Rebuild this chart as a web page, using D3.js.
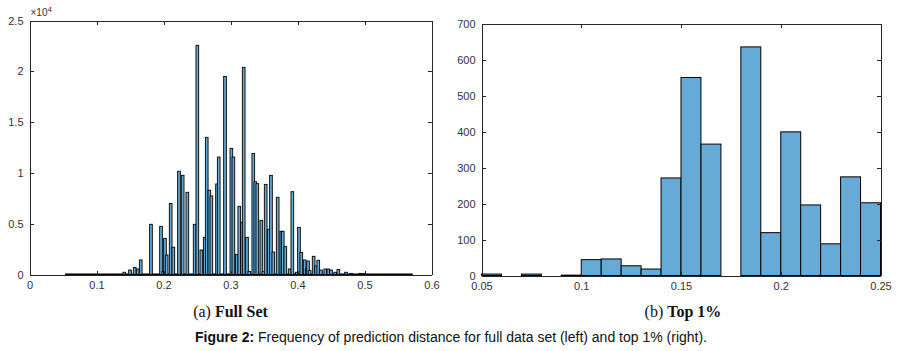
<!DOCTYPE html>
<html>
<head>
<meta charset="utf-8">
<title>Frequency of prediction distance</title>
<script src="https://d3js.org/d3.v7.min.js"></script>
<style>
    body { margin: 0; background: #fff; }
    svg { display: block; }
    .axis path, .axis line { stroke: #262626; stroke-width: 1; shape-rendering: crispEdges; }
    .axis text { fill: #333; font: 11px "Liberation Sans", Arial, sans-serif; }
    .caption { font-family: "Liberation Serif", "Times New Roman", serif; font-size: 16px; fill: #111; }
    .figcap { font-family: "Liberation Sans", Arial, sans-serif; font-size: 14px; fill: #111; }
</style>
</head>
<body>
<svg width="904" height="351"></svg>
<script>
// ---- (a) full set: bar centres and counts
var fullCenters = [0.1415, 0.150, 0.157, 0.1615, 0.166, 0.1813, 0.1963, 0.1998, 0.2022, 0.2047,
    0.2107, 0.2147, 0.2231, 0.2286, 0.2356, 0.2465, 0.2505, 0.2565, 0.2615, 0.2645,
    0.2684, 0.2714, 0.2799, 0.2824, 0.2918, 0.3013, 0.3043, 0.3093, 0.3131, 0.3172,
    0.3197, 0.3246, 0.328, 0.334, 0.337, 0.340, 0.346, 0.349, 0.3525, 0.357,
    0.3604, 0.3639, 0.3704, 0.3758, 0.378, 0.3818, 0.3883, 0.3923, 0.3988, 0.4022,
    0.4057, 0.4107, 0.4137, 0.4157, 0.418, 0.4241, 0.4276, 0.431, 0.435, 0.4415,
    0.446, 0.450, 0.4564, 0.461, 0.4724, 0.480, 0.4937, 0.4997];
var fullCounts = [220, 440, 700, 540, 1430, 4940, 4740, 300, 3560, 1920,
    7000, 2680, 10160, 9760, 8090, 4940, 22560, 2410, 3660, 13500,
    8290, 7730, 8910, 11560, 19500, 12420, 11560, 1980, 6710, 5140,
    20390, 3660, 310, 11910, 9130, 8940, 5330, 300, 8870, 4450,
    9760, 2210, 7600, 4250, 4250, 2740, 540, 8150, 220, 4640,
    2180, 1430, 540, 1330, 400, 1790, 840, 1400, 440, 540,
    540, 440, 220, 500, 220, 110, 110, 100];
var fullBinWidth = 0.004;
var fullRange = [0.053, 0.572];   // extent of (empty) bins along the baseline
var fullXTicks = [0, 0.1, 0.2, 0.3, 0.4, 0.5, 0.6];
var fullYTicks = [0, 5000, 10000, 15000, 20000, 25000];
var fullYLabels = ["0", "0.5", "1", "1.5", "2", "2.5"];

// ---- (b) top 1%: bin edges and counts
var topEdges = [0.05, 0.06, 0.07, 0.08, 0.09, 0.10, 0.11, 0.12, 0.13, 0.14, 0.15,
    0.16, 0.17, 0.18, 0.19, 0.20, 0.21, 0.22, 0.23, 0.24, 0.25];
var topCounts = [4, 0, 4, 0, 1, 44, 46, 27, 18, 271, 550, 365, 0, 635, 119, 399, 196, 88, 274, 202];
var topXTicks = [0.05, 0.1, 0.15, 0.2, 0.25];
var topYTicks = [0, 100, 200, 300, 400, 500, 600, 700];

var barFill = "#66aad7";

var svg = d3.select("svg");

function frame(box, x, y, xTicks, yTicks, xFmt, yFmt) {
    var g = svg.append("g");
    g.append("g").attr("class", "axis")
        .attr("transform", "translate(0," + box.bottom + ")")
        .call(d3.axisBottom(x).tickValues(xTicks).tickFormat(xFmt)
            .tickSizeInner(-4).tickSizeOuter(0).tickPadding(7));
    g.append("g").attr("class", "axis")
        .attr("transform", "translate(0," + box.top + ")")
        .call(d3.axisTop(x).tickValues(xTicks).tickFormat("")
            .tickSizeInner(-4).tickSizeOuter(0));
    g.append("g").attr("class", "axis")
        .attr("transform", "translate(" + box.left + ",0)")
        .call(d3.axisLeft(y).tickValues(yTicks).tickFormat(yFmt)
            .tickSizeInner(-4).tickSizeOuter(0).tickPadding(6));
    g.append("g").attr("class", "axis")
        .attr("transform", "translate(" + box.right + ",0)")
        .call(d3.axisRight(y).tickValues(yTicks).tickFormat("")
            .tickSizeInner(-4).tickSizeOuter(0));
    return g;
}

// ---------- left panel
var boxA = {left: 29.5, right: 431.5, top: 20.5, bottom: 274.5};
var xA = d3.scaleLinear().domain([0, 0.6]).range([boxA.left, boxA.right]);
var yA = d3.scaleLinear().domain([0, 25000]).range([boxA.bottom, boxA.top]);

var fullData = fullCenters.map(function(c, i) { return {c: c, n: fullCounts[i]}; });

svg.append("line")
    .attr("x1", xA(fullRange[0])).attr("x2", xA(fullRange[1]))
    .attr("y1", yA(0)).attr("y2", yA(0))
    .attr("stroke", "#000").attr("stroke-width", 2);

svg.append("g").selectAll("rect")
    .data(fullData)
    .enter().append("rect")
    .attr("x", function(d) { return xA(d.c - fullBinWidth / 2); })
    .attr("width", function(d) { return xA(fullBinWidth) - xA(0); })
    .attr("y", function(d) { return yA(d.n); })
    .attr("height", function(d) { return yA(0) - yA(d.n); })
    .attr("fill", barFill)
    .attr("stroke", "#000")
    .attr("stroke-width", 0.9);

frame(boxA, xA, yA, fullXTicks, fullYTicks,
    function(d) { return String(d); },
    function(d, i) { return fullYLabels[i]; });

var mult = svg.append("text")
    .attr("x", boxA.left + 1).attr("y", 16)
    .style("font", "10px 'Liberation Sans', Arial, sans-serif")
    .attr("fill", "#333");
mult.append("tspan").text("\u00d710");
mult.append("tspan").attr("dy", -4).style("font-size", "8px").text("4");

// ---------- right panel
var boxB = {left: 481.5, right: 880.5, top: 23.5, bottom: 275.5};
var xB = d3.scaleLinear().domain([0.05, 0.25]).range([boxB.left, boxB.right]);
var yB = d3.scaleLinear().domain([0, 700]).range([boxB.bottom, boxB.top]);

var topData = topCounts.map(function(n, i) { return {x0: topEdges[i], x1: topEdges[i + 1], n: n}; });

svg.append("g").selectAll("rect")
    .data(topData)
    .enter().append("rect")
    .attr("x", function(d) { return xB(d.x0); })
    .attr("width", function(d) { return xB(d.x1) - xB(d.x0); })
    .attr("y", function(d) { return yB(d.n); })
    .attr("height", function(d) { return yB(0) - yB(d.n); })
    .attr("fill", barFill)
    .attr("stroke", "#000")
    .attr("stroke-width", 1);

frame(boxB, xB, yB, topXTicks, topYTicks,
    function(d) { return String(d); },
    function(d) { return String(d); });

// ---------- captions
var capA = svg.append("text").attr("class", "caption")
    .attr("x", (boxA.left + boxA.right) / 2).attr("y", 317).attr("text-anchor", "middle");
capA.append("tspan").text("(a) ");
capA.append("tspan").attr("font-weight", "bold").text("Full Set");

var capB = svg.append("text").attr("class", "caption")
    .attr("x", (boxB.left + boxB.right) / 2 + 2).attr("y", 317).attr("text-anchor", "middle");
capB.append("tspan").text("(b) ");
capB.append("tspan").attr("font-weight", "bold").text("Top 1%");

var fig = svg.append("text").attr("class", "figcap")
    .attr("x", 451).attr("y", 342).attr("text-anchor", "middle");
fig.append("tspan").attr("font-weight", "bold").text("Figure 2: ");
fig.append("tspan").text("Frequency of prediction distance for full data set (left) and top 1% (right).");
</script>
</body>
</html>
